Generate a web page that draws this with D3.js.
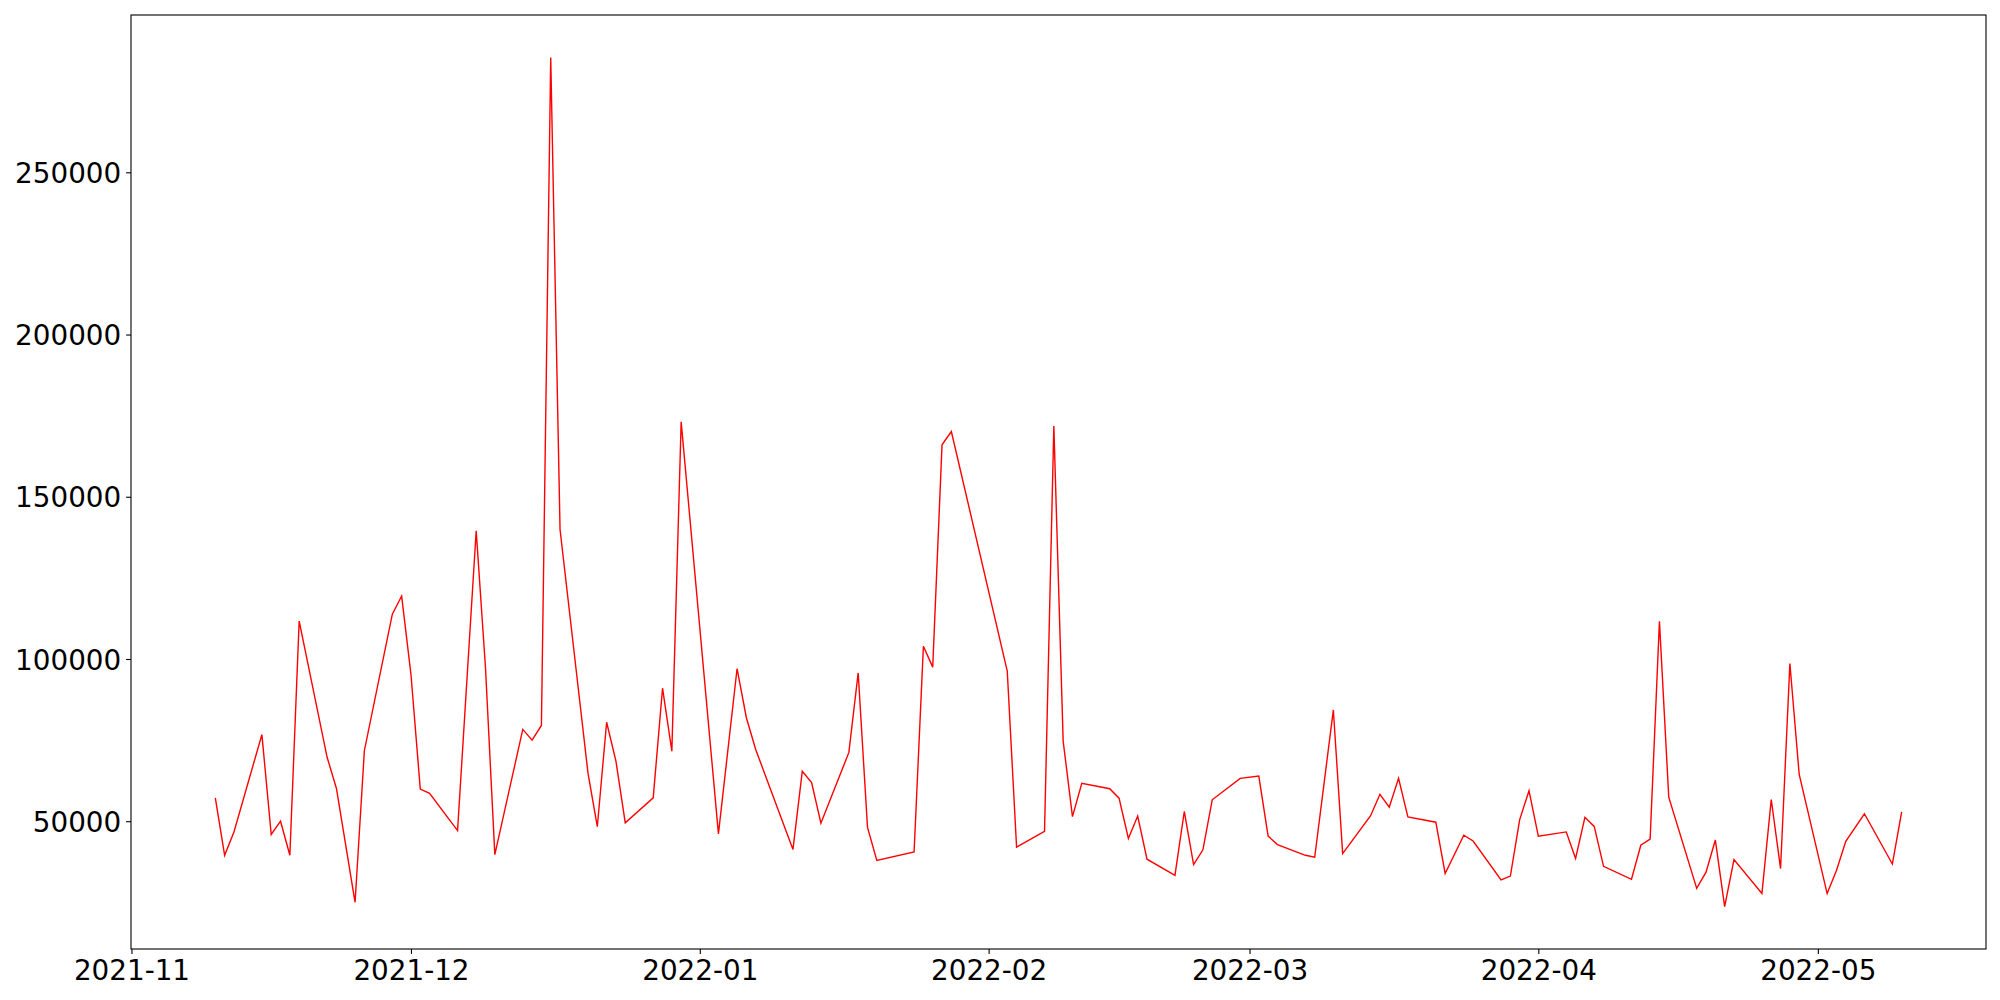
<!DOCTYPE html>
<html>
<head>
<meta charset="utf-8">
<script src="https://cdn.jsdelivr.net/npm/d3@7"></script>
<style>
	body { margin: 0; background: #fff; }
	text { font-family: "DejaVu Sans", sans-serif; }
</style>
</head>
<body>
<script>
// data (value per day)
var dates = [
	"2021-11-10","2021-11-11","2021-11-12","2021-11-15","2021-11-16","2021-11-17","2021-11-18","2021-11-19",
	"2021-11-22","2021-11-23","2021-11-25","2021-11-26","2021-11-29","2021-11-30",
	"2021-12-01","2021-12-02","2021-12-03","2021-12-06","2021-12-08","2021-12-09","2021-12-10",
	"2021-12-13","2021-12-14","2021-12-15","2021-12-16","2021-12-17","2021-12-20","2021-12-21",
	"2021-12-22","2021-12-23","2021-12-24","2021-12-27","2021-12-28","2021-12-29","2021-12-30",
	"2022-01-03","2022-01-05","2022-01-06","2022-01-07","2022-01-11","2022-01-12","2022-01-13","2022-01-14",
	"2022-01-17","2022-01-18","2022-01-19","2022-01-20","2022-01-24","2022-01-25","2022-01-26","2022-01-27","2022-01-28",
	"2022-02-03","2022-02-04","2022-02-07","2022-02-08","2022-02-09","2022-02-10","2022-02-11",
	"2022-02-14","2022-02-15","2022-02-16","2022-02-17","2022-02-18","2022-02-21","2022-02-22","2022-02-23",
	"2022-02-24","2022-02-25","2022-02-28",
	"2022-03-02","2022-03-03","2022-03-04","2022-03-07","2022-03-08","2022-03-10","2022-03-11",
	"2022-03-14","2022-03-15","2022-03-16","2022-03-17","2022-03-18","2022-03-21","2022-03-22","2022-03-24",
	"2022-03-25","2022-03-28","2022-03-29","2022-03-30","2022-03-31",
	"2022-04-01","2022-04-04","2022-04-05","2022-04-06","2022-04-07","2022-04-08","2022-04-11","2022-04-12",
	"2022-04-13","2022-04-14","2022-04-15","2022-04-18","2022-04-19","2022-04-20","2022-04-21","2022-04-22",
	"2022-04-25","2022-04-26","2022-04-27","2022-04-28","2022-04-29",
	"2022-05-02","2022-05-03","2022-05-04","2022-05-06","2022-05-09","2022-05-10"
];
var values = [
	57200,39500,46700,76700,45900,50000,39500,111700,
	69700,60100,25000,71800,113800,119400,
	95200,59900,58600,47100,139500,97200,39700,
	78300,75000,79500,285400,139900,64800,48300,
	80500,68500,49500,57200,91000,71600,173100,
	46100,97000,81900,72100,41300,65400,61900,49400,
	71200,95700,48100,37900,40500,103900,97500,166000,170100,
	96300,42000,46900,171800,74700,51400,61700,
	60000,57100,44700,51600,38300,33300,53000,36600,
	41200,56600,63200,
	63900,45400,42800,39500,38900,84300,40000,
	51700,58300,54300,63200,51300,49700,33900,45700,
	43900,31900,33100,50500,59400,
	45400,46700,38500,51200,48400,36100,32100,42600,
	44500,111600,57400,29300,34300,44200,23700,38200,
	27700,56700,35400,98600,64400,
	27700,34800,43800,52300,36800,52900
];
var yTicks = [50000,100000,150000,200000,250000];

(function(){
	const Config = {
		svg: {Width: 2000, Height: 1000},
		plot: {left: 131, top: 15, right: 1986, bottom: 949},
		fontSize: 27.8,
		tick: 4.9
	};
	var Width = Config.plot.right - Config.plot.left;
	var Height = Config.plot.bottom - Config.plot.top;
	var parse = d3.timeParse("%Y-%m-%d");
	var data = dates.map(function(d,i){ return {date: parse(d), value: values[i]}; });

	// matplotlib style 5% margins
	var xExt = d3.extent(data, function(d){ return d.date; });
	var xPad = (xExt[1] - xExt[0]) * 0.05;
	var yExt = d3.extent(data, function(d){ return d.value; });
	var yPad = (yExt[1] - yExt[0]) * 0.05;

	var scaleX = d3.scaleTime()
		.domain([new Date(+xExt[0] - xPad), new Date(+xExt[1] + xPad)])
		.range([0, Width]);
	var scaleY = d3.scaleLinear()
		.domain([yExt[0] - yPad, yExt[1] + yPad])
		.range([Height, 0]);

	var svg = d3.select('body').append('svg')
		.attr('width', Config.svg.Width)
		.attr('height', Config.svg.Height);
	var group = svg.append('g')
		.attr('transform', "translate(" + Config.plot.left + "," + Config.plot.top + ")");

	//line
	var line = d3.line()
		.x(function(d){ return scaleX(d.date); })
		.y(function(d){ return scaleY(d.value); });
	group.append('path')
		.datum(data)
		.attr('fill', 'none')
		.attr('stroke', '#ff0000')
		.attr('stroke-width', 1.4)
		.attr('stroke-linejoin', 'miter')
		.attr('d', line);

	//axis x
	var xAxis = group.append('g')
		.attr('transform', "translate(0," + Height + ")")
		.call(d3.axisBottom(scaleX)
			.ticks(d3.timeMonth.every(1))
			.tickFormat(d3.timeFormat("%Y-%m"))
			.tickSize(Config.tick)
			.tickSizeOuter(0));
	xAxis.select('.domain').remove();
	xAxis.selectAll('line').attr('stroke', '#000').attr('stroke-width', 1.1);
	xAxis.selectAll('text')
		.attr('y', 31)
		.attr('dy', null)
		.attr('fill', '#000')
		.style('font-size', Config.fontSize + 'px')
		.style('font-family', '"DejaVu Sans", sans-serif');

	//axis y
	var yAxis = group.append('g')
		.call(d3.axisLeft(scaleY)
			.tickValues(yTicks)
			.tickFormat(d3.format("d"))
			.tickSize(Config.tick)
			.tickSizeOuter(0));
	yAxis.select('.domain').remove();
	yAxis.selectAll('line').attr('stroke', '#000').attr('stroke-width', 1.1);
	yAxis.selectAll('text')
		.attr('x', -9.8)
		.attr('dy', '0.36em')
		.attr('fill', '#000')
		.style('font-size', Config.fontSize + 'px')
		.style('font-family', '"DejaVu Sans", sans-serif');

	//frame
	group.append('rect')
		.attr('width', Width)
		.attr('height', Height)
		.attr('fill', 'none')
		.attr('stroke', '#000')
		.attr('stroke-width', 1.1);
})();
</script>
</body>
</html>
